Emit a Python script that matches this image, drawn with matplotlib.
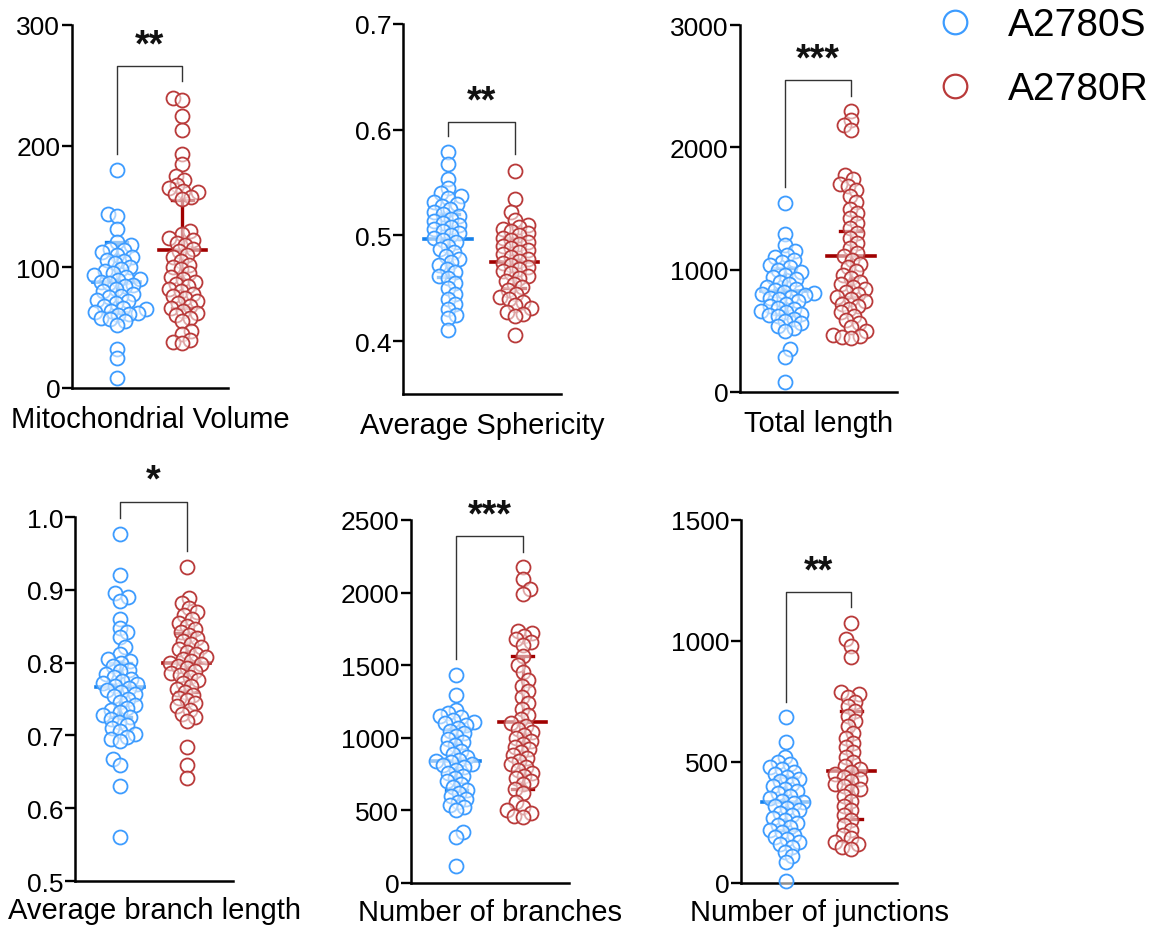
import numpy as np
import matplotlib
matplotlib.use("Agg")
import matplotlib.pyplot as plt
from matplotlib.lines import Line2D

plt.rcParams['font.family'] = ['Liberation Sans', 'DejaVu Sans']

# ---- data ----
groups = ["A2780S", "A2780R"]

titles = ["Mitochondrial Volume", "Average Sphericity", "Total length",
          "Average branch length", "Number of branches", "Number of junctions"]

vol_s = [180, 144, 142, 131, 121, 118, 115, 114, 112, 110, 108, 106, 105, 103, 100, 98, 97,
         95, 93, 92, 90, 89, 88, 87, 85, 84, 82, 80, 78, 76, 75, 73, 72, 70, 68, 66, 65, 64,
         63, 62, 61, 60, 58, 57, 55, 52, 32, 25, 8]
vol_r = [240, 238, 225, 213, 193, 185, 175, 172, 168, 165, 163, 162, 160, 158, 156, 130, 127,
         124, 122, 120, 118, 115, 113, 110, 108, 105, 102, 100, 98, 95, 92, 90, 88, 86, 84,
         82, 80, 78, 76, 74, 72, 70, 68, 66, 64, 62, 60, 58, 55, 47, 45, 40, 38, 37]

sph_s = [0.579, 0.568, 0.553, 0.545, 0.540, 0.537, 0.535, 0.532, 0.530, 0.528, 0.525, 0.522,
         0.520, 0.518, 0.516, 0.514, 0.512, 0.510, 0.508, 0.506, 0.504, 0.502, 0.500, 0.498,
         0.496, 0.494, 0.490, 0.487, 0.484, 0.481, 0.478, 0.475, 0.472, 0.468, 0.465, 0.462,
         0.460, 0.455, 0.450, 0.445, 0.440, 0.435, 0.430, 0.425, 0.422, 0.411]
sph_r = [0.561, 0.534, 0.522, 0.515, 0.510, 0.508, 0.506, 0.504, 0.502, 0.500, 0.498, 0.496,
         0.494, 0.492, 0.490, 0.488, 0.486, 0.484, 0.482, 0.480, 0.478, 0.476, 0.474, 0.472,
         0.470, 0.468, 0.466, 0.464, 0.462, 0.460, 0.457, 0.454, 0.451, 0.448, 0.445, 0.442,
         0.440, 0.437, 0.434, 0.431, 0.428, 0.426, 0.424, 0.406]

len_s = [1545, 1290, 1200, 1150, 1120, 1100, 1080, 1060, 1040, 1020, 1000, 980, 960, 940, 920,
         900, 880, 860, 840, 830, 820, 810, 800, 790, 780, 770, 760, 740, 720, 700, 690, 680,
         660, 650, 640, 630, 620, 600, 580, 560, 540, 520, 500, 350, 290, 85]
len_r = [2300, 2220, 2180, 2140, 1770, 1740, 1700, 1680, 1650, 1600, 1550, 1500, 1460, 1420,
         1380, 1340, 1300, 1260, 1220, 1180, 1140, 1110, 1080, 1050, 1020, 990, 960, 930, 900,
         880, 860, 840, 820, 800, 780, 760, 740, 720, 700, 680, 650, 620, 590, 560, 530, 500,
         470, 455, 450, 445]

abl_s = [0.976, 0.920, 0.895, 0.890, 0.885, 0.860, 0.848, 0.842, 0.835, 0.822, 0.812, 0.805,
         0.802, 0.800, 0.795, 0.790, 0.788, 0.785, 0.780, 0.778, 0.775, 0.772, 0.770, 0.768,
         0.765, 0.762, 0.760, 0.757, 0.754, 0.750, 0.746, 0.742, 0.738, 0.735, 0.732, 0.728,
         0.725, 0.722, 0.718, 0.714, 0.710, 0.706, 0.702, 0.698, 0.695, 0.692, 0.667, 0.660,
         0.630, 0.560]
abl_r = [0.931, 0.889, 0.882, 0.875, 0.870, 0.865, 0.860, 0.855, 0.850, 0.846, 0.842, 0.838,
         0.834, 0.830, 0.826, 0.822, 0.818, 0.815, 0.812, 0.808, 0.805, 0.802, 0.800, 0.798,
         0.795, 0.792, 0.789, 0.786, 0.783, 0.780, 0.776, 0.772, 0.768, 0.764, 0.760, 0.756,
         0.752, 0.748, 0.744, 0.740, 0.735, 0.730, 0.725, 0.720, 0.684, 0.660, 0.641]

nbr_s = [1435, 1297, 1190, 1170, 1150, 1140, 1120, 1110, 1100, 1090, 1070, 1050, 1030, 1010,
         990, 970, 950, 930, 910, 890, 870, 850, 840, 830, 820, 810, 800, 780, 760, 740, 720,
         700, 680, 660, 640, 620, 600, 580, 560, 540, 520, 500, 350, 320, 119]
nbr_r = [2175, 2094, 2025, 1990, 1738, 1720, 1700, 1680, 1660, 1640, 1560, 1500, 1450, 1400,
         1360, 1320, 1280, 1240, 1200, 1160, 1130, 1100, 1080, 1060, 1040, 1020, 1000, 980,
         960, 940, 920, 900, 880, 860, 840, 820, 800, 780, 760, 740, 720, 700, 680, 650, 620,
         560, 520, 500, 480, 460, 454]

nj_s = [685, 582, 520, 500, 490, 480, 470, 460, 450, 440, 430, 420, 410, 400, 390, 380, 370,
        360, 350, 340, 335, 330, 320, 310, 300, 290, 280, 270, 260, 250, 240, 230, 220, 210,
        200, 190, 180, 170, 160, 150, 130, 110, 87, 10]
nj_r = [1074, 1008, 980, 933, 790, 781, 770, 750, 730, 710, 690, 670, 650, 620, 600, 580, 560,
        540, 520, 500, 485, 470, 460, 450, 440, 430, 420, 410, 400, 390, 380, 360, 340, 320,
        300, 280, 260, 240, 220, 200, 185, 170, 160, 150, 140]

# median, q1, q3 per group as drawn
summ_s = [(88, 63, 121), (0.497, 0.461, 0.520), (826, 640, 1010),
          (0.766, 0.725, 0.800), (840, 640, 1060), (335, 220, 440)]
summ_r = [(114, 66, 155), (0.475, 0.450, 0.498), (1112, 780, 1316),
          (0.799, 0.760, 0.840), (1109, 647, 1563), (463, 265, 710)]

ylims = [(0, 300), (0.35, 0.7), (0, 3000), (0.5, 1.0), (0, 2500), (0, 1500)]
yticks = [[0, 100, 200, 300], [0.4, 0.5, 0.6, 0.7], [0, 1000, 2000, 3000],
          [0.5, 0.6, 0.7, 0.8, 0.9, 1.0], [0, 500, 1000, 1500, 2000, 2500],
          [0, 500, 1000, 1500]]
tickfmt = ["{:.0f}", "{:.1f}", "{:.0f}", "{:.1f}", "{:.0f}", "{:.0f}"]

# bracket: top, left foot, right foot
brackets = [(266, 193, 254), (0.607, 0.594, 0.577), (2551, 1676, 2420),
            (1.021, 0.999, 0.953), (2390, 1543, 2280), (1202, 748, 1140)]
stars = ["**", "**", "***", "*", "***", "**"]

data_s = [vol_s, sph_s, len_s, abl_s, nbr_s, nj_s]
data_r = [vol_r, sph_r, len_r, abl_r, nbr_r, nj_r]

blue = "#3d9cff"
red = "#b93a3a"
blue_dk = "#1580ea"
red_dk = "#a00000"

W, H = 1161, 929
# axes boxes in pixels: left, top, right, bottom
boxes = [(72, 26, 228, 389), (403, 25, 561, 395), (740, 26, 897, 393),
         (75, 518, 233, 882), (411, 521, 569, 884), (741, 521, 897, 884)]
labelpads = [12, 12, 12, 10.5, 10.5, 10.5]

MS_PX = 14.0


def swarm(ax, xc, vals, diam):
    pts = ax.transData.transform(np.column_stack([np.full(len(vals), xc), vals]))
    ys = pts[:, 1]
    x0 = pts[0, 0]
    order = np.argsort(ys)
    placed = []
    off = np.zeros(len(vals))
    mind = diam * 0.6
    for n, i in enumerate(order):
        y = ys[i]
        got = None
        for k in range(0, 80):
            sides = (1, -1) if n % 2 == 0 else (-1, 1)
            for sg in sides:
                c = sg * k * 0.8
                ok = True
                for px, py in placed:
                    if abs(py - y) < mind and (c - px) ** 2 + (y - py) ** 2 < mind ** 2:
                        ok = False
                        break
                if ok:
                    got = c
                    break
            if got is not None:
                break
        placed.append((got, y))
        off[i] = got
    back = ax.transData.inverted().transform(np.column_stack([x0 + off, ys]))
    return back[:, 0]


fig = plt.figure(figsize=(W / 100, H / 100), dpi=100)

for p in range(6):
    l, t, r, b = boxes[p]
    ax = fig.add_axes([l / W, 1 - b / H, (r - l) / W, (b - t) / H])
    ax.set_xlim(-0.68, 1.70)
    ax.set_ylim(*ylims[p])
    for s in ["top", "right"]:
        ax.spines[s].set_visible(False)
    for s in ["left", "bottom"]:
        ax.spines[s].set_linewidth(1.8)
    ax.set_xticks([])
    ax.set_yticks(yticks[p])
    ax.set_yticklabels([tickfmt[p].format(v) for v in yticks[p]])
    ax.tick_params(axis="y", length=7, width=1.7, pad=1.5, labelsize=19)
    ax.set_xlabel(titles[p], fontsize=21, labelpad=labelpads[p])

    for gi, (vals, summ, col, dk) in enumerate([(data_s[p], summ_s[p], blue, blue_dk),
                                               (data_r[p], summ_r[p], red, red_dk)]):
        xs = swarm(ax, gi, vals, MS_PX)
        med, q1, q3 = summ
        ax.plot([gi, gi], [q1, q3], color=dk, lw=2.4, zorder=2, solid_capstyle="butt")
        ax.plot([gi - 0.16, gi + 0.16], [q1, q1], color=dk, lw=2.4, zorder=2)
        ax.plot([gi - 0.16, gi + 0.16], [q3, q3], color=dk, lw=2.4, zorder=2)
        ax.plot([gi - 0.36, gi + 0.36], [med, med], color=dk, lw=2.6, zorder=2)
        ax.scatter(xs, vals, s=(MS_PX * 0.72) ** 2, facecolors=(1, 1, 1, 0.55),
                   edgecolors=col, linewidths=1.3, zorder=3, clip_on=False)

    top, lf, rf = brackets[p]
    ax.plot([0, 0, 1, 1], [lf, top, top, rf], color="#333333", lw=1.0,
            clip_on=False, zorder=4)
    span = ylims[p][1] - ylims[p][0]
    ax.text(0.5, top + span * 0.008, stars[p], ha="center", va="bottom",
            fontsize=27, fontweight="bold", color="#111111", clip_on=False)

handles = [Line2D([], [], marker="o", ls="", ms=17, mfc="white", mec=c, mew=1.6)
           for c in (blue, red)]
fig.legend(handles, groups, loc="upper left", bbox_to_anchor=(935.5 / W, 1 - 8.5 / H),
           frameon=False, fontsize=28, handlelength=1.0, handletextpad=0.86,
           labelspacing=0.72, borderpad=0, borderaxespad=0)

fig.savefig("out.png", dpi=100)
